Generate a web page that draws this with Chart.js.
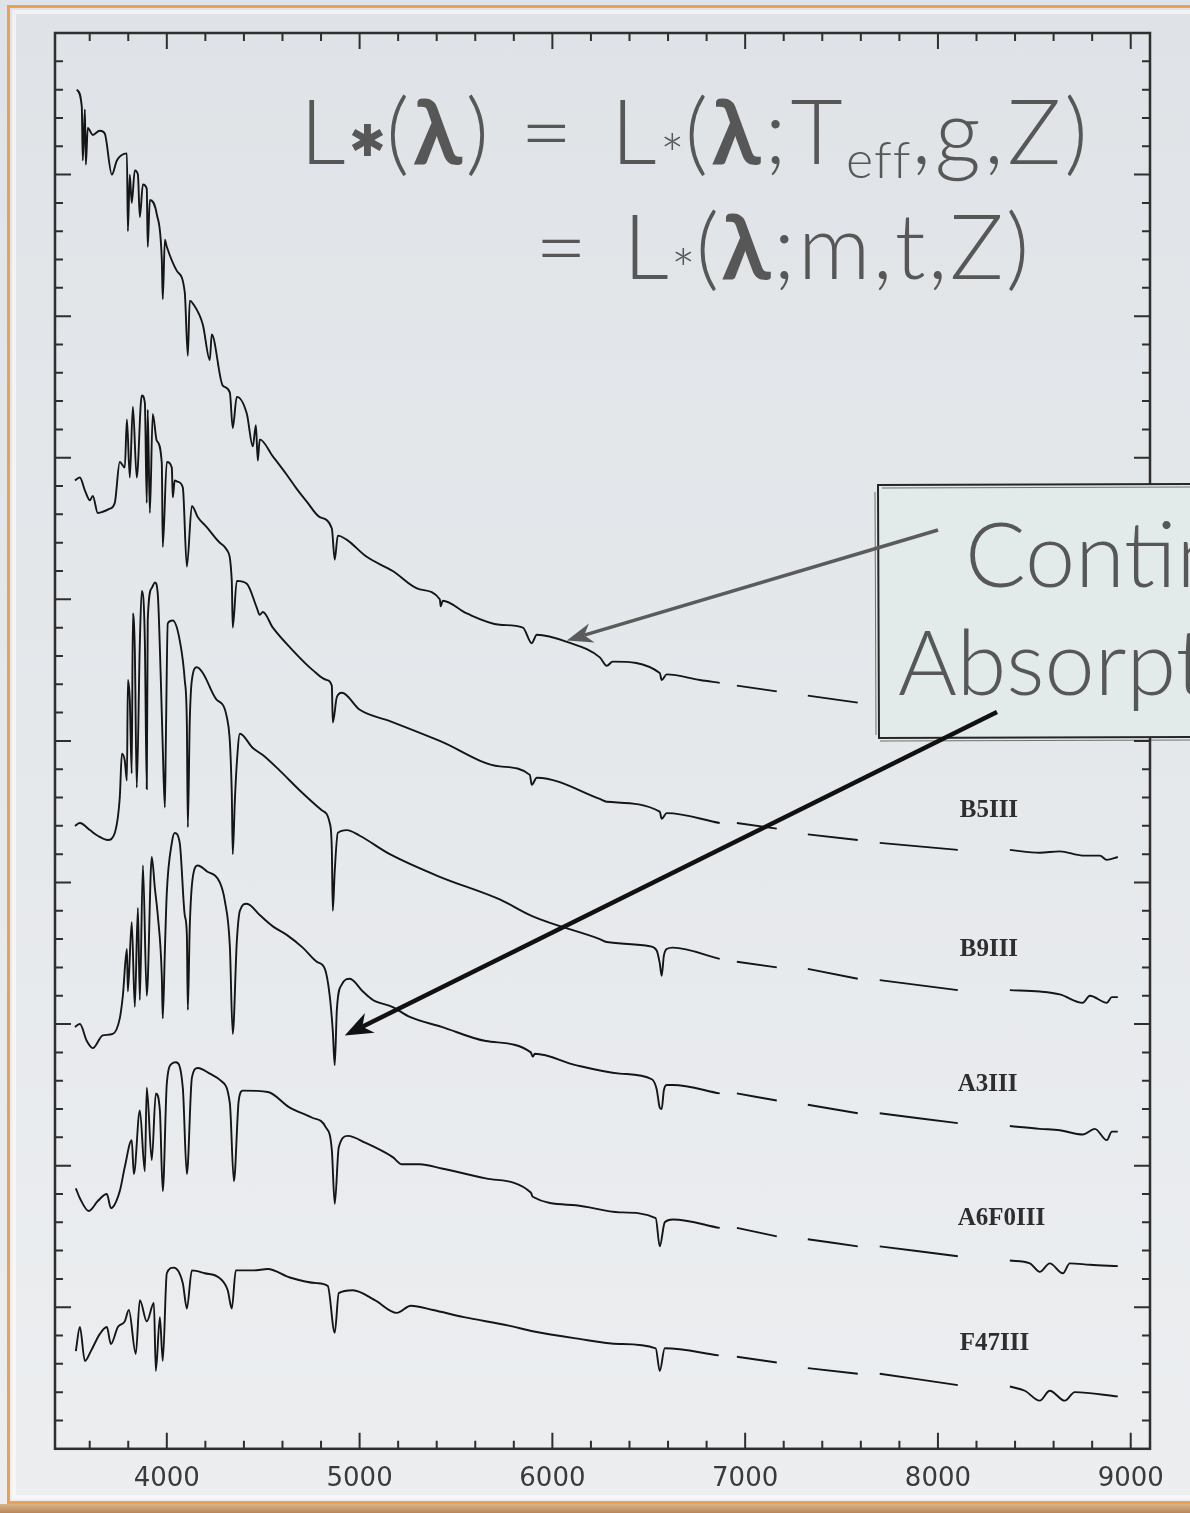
<!DOCTYPE html>
<html>
<head>
<meta charset="utf-8">
<script src="https://cdn.jsdelivr.net/npm/chart.js@4.4.1/dist/chart.umd.min.js"></script>
<style>
  html, body { margin: 0; padding: 0; background: #e2e5e8; }
  #page { position: relative; width: 1190px; height: 1513px; overflow: hidden;
          background: linear-gradient(#dfe3e7, #eceef0); }
  #frame { position: absolute; left: 7px; top: 5px; width: 1200px; height: 1499px;
           border: 3px solid #eda052; box-sizing: border-box; }
  #frame::after { content: ""; position: absolute; inset: 2px; border: 4px solid rgba(255,255,255,0.55); }
  #bottomEdge { position: absolute; left: 0; top: 1504px; width: 1190px; height: 9px;
                background: linear-gradient(#d9b48a, #b8875a); }
  canvas { position: absolute; left: 0; top: 0; }
  .slideText { position: absolute; font-family: Lato, "Open Sans", sans-serif; font-weight: 300;
               font-size: 90px; line-height: 90px; color: #575757; white-space: nowrap; }
  .eq { letter-spacing: 3.5px; }
  #eq2 { letter-spacing: 2.3px; }
  .slideText b { font-weight: 700; }
  .gap { display: inline-block; width: 7px; }
  .astBig { font-family: "DejaVu Sans"; font-weight: bold; font-size: 44px; vertical-align: 8px; letter-spacing: 0; }
  .astSmall { font-size: 58px; vertical-align: -12px; letter-spacing: 0; }
  .slideText sub { font-size: 52px; vertical-align: -14px; line-height: 0; letter-spacing: 1px; }
</style>
</head>
<body>
<div id="page">
  <div id="frame"></div>
  <div id="bottomEdge"></div>
  <canvas id="spectraChart" width="1190" height="1513"></canvas>
  <div class="slideText eq" id="eq1" style="left:300px; top:84px;">L<span class="astBig">✱</span>(<b>λ</b>) = <span class="gap"></span>L<span class="astSmall">*</span>(<b>λ</b>;T<sub>eff</sub>,g,Z)</div>
  <div class="slideText eq" id="eq2" style="left:535px; top:199px;">= <span class="gap"></span>L<span class="astSmall">*</span>(<b>λ</b>;m,t,Z)</div>
  <div class="slideText" id="box1" style="left:965px; top:507px;">Continuum</div>
  <div class="slideText" id="box2" style="left:898px; top:615px;">Absorption lines</div>
</div>
<script>
// wavelength tick labels (Angstrom)
const xTickLabels = [4000, 5000, 6000, 7000, 8000, 9000];

// spectral types, top to bottom (top one is hidden under the text box)
const spectralTypes = ['', 'B5III', 'B9III', 'A3III', 'A6F0III', 'F47III'];

// [wavelength, offset flux]; null marks the removed telluric bands
const specTop = [[3533,9.60],[3559,9.48],[3564,9.10],[3575,9.46],[3580,9.07],[3590,9.33],[3616,9.28],[3652,9.31],[3678,9.29],[3715,9.00],[3741,9.10],[3793,9.15],[3798,8.60],[3808,9.00],[3818,8.80],[3834,9.03],[3850,9.00],[3860,8.70],[3876,8.93],[3896,8.90],[3901,8.49],[3912,8.82],[3948,8.72],[3974,8.40],[3979,8.12],[3990,8.54],[4000,8.49],[4052,8.32],[4093,8.17],[4109,7.72],[4119,8.11],[4135,8.09],[4187,7.94],[4223,7.69],[4233,7.87],[4290,7.51],[4327,7.46],[4342,7.21],[4363,7.43],[4415,7.31],[4446,7.08],[4462,7.23],[4472,6.98],[4482,7.13],[4550,7.01],[4622,6.88],[4674,6.78],[4726,6.69],[4794,6.58],[4856,6.50],[4871,6.28],[4887,6.45],[4934,6.42],[5037,6.30],[5172,6.20],[5312,6.07],[5416,6.00],[5421,5.95],[5431,5.99],[5556,5.90],[5727,5.82],[5847,5.80],[5893,5.69],[5919,5.75],[6075,5.70],[6246,5.59],[6282,5.53],[6313,5.56],[6557,5.48],[6567,5.43],[6593,5.47],[6765,5.43],[6868,5.41],[6910,null],[6957,5.39],[7164,5.35],[7240,null],[7325,5.32],[7584,5.27],[7640,null],[7698,5.24],[8103,5.17],[8240,null],[8373,5.14],[8933,5.09]];

const specB5 = [[3523,6.84],[3549,6.86],[3575,6.77],[3601,6.70],[3616,6.73],[3642,6.61],[3704,6.64],[3730,6.68],[3756,6.97],[3782,6.93],[3793,7.27],[3808,6.86],[3824,7.36],[3844,6.86],[3870,7.44],[3886,7.39],[3896,6.68],[3901,7.34],[3912,6.61],[3927,7.31],[3948,7.12],[3974,6.96],[3979,6.37],[4000,6.97],[4026,6.93],[4031,6.72],[4041,6.84],[4057,6.83],[4083,6.79],[4104,6.23],[4130,6.66],[4161,6.58],[4207,6.51],[4275,6.40],[4311,6.35],[4337,6.13],[4342,5.80],[4363,6.13],[4415,6.11],[4467,5.94],[4482,5.89],[4498,5.91],[4550,5.80],[4653,5.64],[4757,5.50],[4830,5.43],[4856,5.39],[4861,5.13],[4882,5.31],[4908,5.34],[5001,5.22],[5157,5.14],[5416,5.00],[5727,4.82],[5883,4.76],[5893,4.69],[5919,4.74],[6246,4.59],[6282,4.57],[6557,4.50],[6567,4.45],[6593,4.49],[6868,4.42],[6910,null],[6957,4.42],[7164,4.38],[7240,null],[7325,4.34],[7584,4.30],[7640,null],[7698,4.28],[8103,4.23],[8240,null],[8373,4.23],[8528,4.21],[8632,4.22],[8751,4.19],[8840,4.19],[8876,4.16],[8933,4.18]];

const specB9 = [[3523,4.40],[3549,4.42],[3601,4.37],[3642,4.33],[3694,4.30],[3730,4.35],[3756,4.60],[3767,4.91],[3782,4.86],[3793,4.72],[3798,5.43],[3808,5.29],[3818,4.77],[3824,5.90],[3834,5.64],[3844,4.67],[3860,5.69],[3870,6.06],[3886,5.71],[3896,4.66],[3901,5.85],[3922,6.08],[3938,6.12],[3953,6.04],[3969,5.43],[3979,4.95],[3990,4.53],[3995,5.00],[4005,5.83],[4031,5.85],[4067,5.71],[4093,5.43],[4104,5.12],[4109,4.39],[4119,5.14],[4130,5.43],[4156,5.52],[4187,5.48],[4259,5.29],[4311,5.17],[4337,4.63],[4342,4.20],[4353,4.58],[4363,4.84],[4379,5.05],[4446,4.95],[4498,4.90],[4586,4.79],[4690,4.65],[4804,4.51],[4845,4.42],[4856,4.23],[4861,3.80],[4871,4.08],[4887,4.35],[4934,4.37],[5001,4.33],[5157,4.20],[5416,4.04],[5727,3.88],[5898,3.76],[6246,3.60],[6282,3.58],[6505,3.55],[6541,3.52],[6557,3.43],[6567,3.34],[6578,3.48],[6593,3.53],[6625,3.54],[6868,3.46],[6910,null],[6957,3.44],[7164,3.40],[7240,null],[7325,3.39],[7584,3.32],[7640,null],[7698,3.31],[8103,3.24],[8240,null],[8373,3.24],[8528,3.23],[8632,3.21],[8751,3.15],[8788,3.20],[8876,3.15],[8902,3.19],[8933,3.19]];

const specA3 = [[3523,2.98],[3549,3.00],[3585,2.88],[3616,2.83],[3668,2.92],[3720,2.93],[3756,3.04],[3772,3.20],[3793,3.53],[3798,3.23],[3818,3.72],[3834,3.12],[3850,3.82],[3860,3.17],[3876,4.12],[3896,3.20],[3922,4.18],[3938,3.96],[3953,3.77],[3974,3.34],[3979,3.04],[3990,3.52],[4000,3.93],[4026,4.28],[4041,4.35],[4067,4.28],[4093,3.77],[4104,3.63],[4109,3.10],[4119,3.69],[4135,4.04],[4161,4.12],[4207,4.08],[4275,4.00],[4301,3.87],[4327,3.55],[4342,2.93],[4363,3.58],[4379,3.80],[4415,3.85],[4482,3.77],[4550,3.69],[4622,3.63],[4705,3.54],[4778,3.44],[4820,3.39],[4845,3.20],[4861,2.95],[4871,2.71],[4882,3.10],[4908,3.28],[4949,3.32],[5017,3.23],[5069,3.17],[5172,3.12],[5260,3.05],[5426,2.98],[5655,2.88],[5888,2.80],[5898,2.77],[5909,2.79],[6121,2.71],[6350,2.65],[6516,2.61],[6541,2.54],[6557,2.41],[6567,2.40],[6578,2.53],[6593,2.57],[6625,2.57],[6868,2.51],[6910,null],[6957,2.51],[7164,2.46],[7240,null],[7325,2.43],[7584,2.37],[7640,null],[7698,2.37],[8103,2.30],[8240,null],[8373,2.28],[8528,2.26],[8632,2.25],[8751,2.22],[8814,2.26],[8876,2.18],[8902,2.24],[8933,2.24]];

const specA6F0 = [[3528,1.84],[3549,1.77],[3595,1.68],[3642,1.75],[3689,1.80],[3710,1.70],[3756,1.82],[3782,1.99],[3818,2.18],[3829,1.94],[3860,2.39],[3886,1.96],[3896,2.55],[3922,2.04],[3943,2.51],[3964,2.39],[3979,1.82],[4000,2.58],[4026,2.72],[4047,2.73],[4083,2.55],[4104,1.94],[4130,2.62],[4161,2.69],[4223,2.65],[4280,2.60],[4327,2.44],[4348,1.89],[4373,2.46],[4394,2.53],[4524,2.52],[4638,2.41],[4752,2.34],[4825,2.27],[4856,2.11],[4871,1.73],[4892,2.13],[4939,2.21],[5032,2.16],[5172,2.06],[5219,2.01],[5312,2.01],[5426,1.98],[5655,1.91],[5888,1.81],[5898,1.78],[6121,1.72],[6350,1.67],[6536,1.63],[6557,1.43],[6583,1.60],[6625,1.62],[6868,1.56],[6910,null],[6957,1.56],[7164,1.50],[7240,null],[7325,1.48],[7584,1.43],[7640,null],[7698,1.43],[8103,1.36],[8240,null],[8373,1.33],[8477,1.31],[8528,1.25],[8580,1.31],[8648,1.24],[8684,1.31],[8788,1.30],[8933,1.29]];

const specF47 = [[3528,0.69],[3549,0.86],[3575,0.62],[3606,0.69],[3652,0.81],[3689,0.86],[3710,0.74],[3746,0.86],[3782,0.90],[3803,0.98],[3839,0.67],[3860,1.05],[3896,0.90],[3933,1.03],[3943,0.55],[3964,0.93],[3979,0.62],[4000,1.24],[4036,1.28],[4083,1.17],[4104,0.99],[4130,1.26],[4197,1.24],[4270,1.21],[4316,1.12],[4337,0.99],[4358,1.26],[4451,1.26],[4524,1.27],[4638,1.21],[4778,1.17],[4835,1.15],[4871,0.82],[4892,1.10],[4965,1.12],[5079,1.05],[5193,0.96],[5266,1.01],[5380,0.98],[5541,0.93],[5774,0.87],[5898,0.83],[6121,0.78],[6350,0.74],[6536,0.71],[6557,0.55],[6583,0.71],[6863,0.66],[6910,null],[6957,0.65],[7164,0.61],[7240,null],[7325,0.57],[7584,0.53],[7640,null],[7698,0.53],[8103,0.45],[8240,null],[8373,0.44],[8451,0.41],[8528,0.34],[8580,0.41],[8658,0.34],[8710,0.40],[8933,0.37]];

const spectra = [specTop, specB5, specB9, specA3, specA6F0, specF47];

// frame of the plot with inward tick marks on all four sides
const frameTicks = {
  id: 'frameTicks',
  beforeDatasetsDraw(chart) {
    const { ctx, chartArea: a, scales: { x, y } } = chart;
    ctx.save();
    ctx.strokeStyle = '#2f2f2f';
    ctx.lineWidth = 2;
    ctx.beginPath();
    for (let w = 3600; w <= 9000; w += 200) {
      const px = x.getPixelForValue(w);
      const len = w % 1000 === 0 ? 16 : 8;
      ctx.moveTo(px, a.bottom); ctx.lineTo(px, a.bottom - len);
      ctx.moveTo(px, a.top); ctx.lineTo(px, a.top + len);
    }
    for (let i = 1; i < 50; i++) {
      const py = y.getPixelForValue(i / 5);
      const len = i % 5 === 0 ? 16 : 8;
      ctx.moveTo(a.left, py); ctx.lineTo(a.left + len, py);
      ctx.moveTo(a.right, py); ctx.lineTo(a.right - len, py);
    }
    ctx.stroke();
    ctx.lineWidth = 2.5;
    ctx.strokeRect(a.left, a.top, a.width, a.height);
    ctx.restore();
  }
};

// spectral type labels next to the red end of each spectrum
const typeLabels = {
  id: 'typeLabels',
  afterDatasetsDraw(chart) {
    const { ctx, scales: { x, y } } = chart;
    const spots = [null, [8113, 4.46], [8113, 3.48], [8103, 2.53], [8103, 1.58], [8113, 0.70]];
    ctx.save();
    ctx.font = 'bold 25px "Liberation Serif"';
    ctx.fillStyle = '#2e2e2e';
    ctx.textBaseline = 'alphabetic';
    spectralTypes.forEach((t, i) => {
      if (!t || !spots[i]) return;
      ctx.fillText(t, x.getPixelForValue(spots[i][0]), y.getPixelForValue(spots[i][1]));
    });
    ctx.restore();
  }
};

function arrow(ctx, x0, y0, x1, y1, color, width, headLen, headHalf) {
  const dx = x1 - x0, dy = y1 - y0, d = Math.hypot(dx, dy);
  const ux = dx / d, uy = dy / d, nx = -uy, ny = ux;
  ctx.strokeStyle = color;
  ctx.fillStyle = color;
  ctx.lineWidth = width;
  ctx.beginPath();
  ctx.moveTo(x0, y0);
  ctx.lineTo(x1 - ux * headLen * 0.7, y1 - uy * headLen * 0.7);
  ctx.stroke();
  ctx.beginPath();
  ctx.moveTo(x1, y1);
  ctx.lineTo(x1 - ux * headLen + nx * headHalf, y1 - uy * headLen + ny * headHalf);
  ctx.lineTo(x1 - ux * headLen * 0.7, y1 - uy * headLen * 0.7);
  ctx.lineTo(x1 - ux * headLen - nx * headHalf, y1 - uy * headLen - ny * headHalf);
  ctx.closePath();
  ctx.fill();
}

// slide call-out: text box and arrows pointing at continuum and a Balmer line
const callout = {
  id: 'callout',
  afterDraw(chart) {
    const { ctx, scales: { x, y } } = chart;
    ctx.save();
    ctx.fillStyle = '#e2ebe9';
    ctx.fillRect(878, 484, 330, 254);
    ctx.strokeStyle = '#262626';
    ctx.lineWidth = 2;
    ctx.beginPath();
    ctx.moveTo(1195, 484); ctx.lineTo(878, 485); ctx.lineTo(879, 738); ctx.lineTo(1195, 737);
    ctx.stroke();
    ctx.lineWidth = 1;
    ctx.strokeStyle = 'rgba(30,30,30,0.6)';
    ctx.beginPath();
    ctx.moveTo(882, 488); ctx.lineTo(1195, 487);
    ctx.moveTo(875, 492); ctx.lineTo(876, 735);
    ctx.moveTo(880, 741); ctx.lineTo(1195, 740);
    ctx.stroke();
    arrow(ctx, 938, 530, x.getPixelForValue(6075), y.getPixelForValue(5.71), '#5b5b5b', 3.5, 26, 10);
    arrow(ctx, 997, 712, x.getPixelForValue(4923), y.getPixelForValue(2.92), '#111111', 4.5, 28, 11);
    ctx.restore();
  }
};

const ctx = document.getElementById('spectraChart').getContext('2d');
new Chart(ctx, {
  type: 'line',
  data: {
    datasets: spectra.map((s, i) => ({
      label: spectralTypes[i],
      data: s,
      borderColor: '#151515',
      borderWidth: 1.9,
      pointRadius: 0,
      cubicInterpolationMode: 'monotone',
      spanGaps: false,
      fill: false
    }))
  },
  options: {
    responsive: false,
    animation: false,
    layout: { padding: { left: 55, right: 40, top: 33, bottom: 3 } },
    plugins: { legend: { display: false }, tooltip: { enabled: false } },
    scales: {
      x: {
        type: 'linear',
        min: 3420,
        max: 9100,
        afterBuildTicks: s => { s.ticks = xTickLabels.map(v => ({ value: v })); },
        grid: { display: false, drawTicks: false },
        border: { display: false },
        ticks: {
          font: { family: 'DejaVu Sans', size: 26 },
          color: '#3a3a3a',
          padding: 15,
          autoSkip: false,
          maxRotation: 0,
          callback: v => String(v)
        }
      },
      y: { type: 'linear', min: 0, max: 10, display: false }
    }
  },
  plugins: [frameTicks, typeLabels, callout]
});
</script>
</body>
</html>
